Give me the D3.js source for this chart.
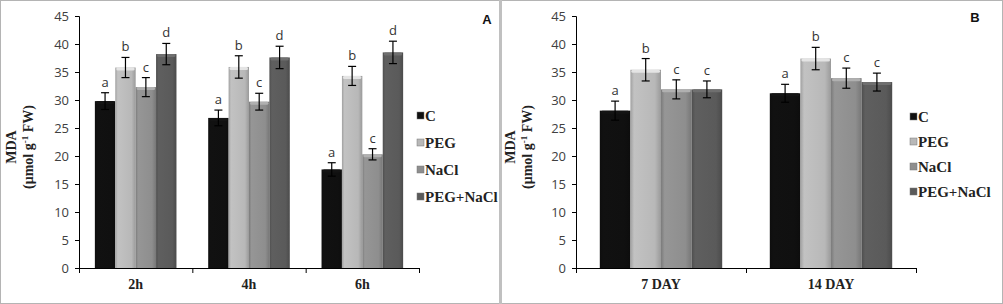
<!DOCTYPE html>
<html>
<head>
<meta charset="utf-8">
<script src="https://cdn.jsdelivr.net/npm/d3@7"></script>
<style>
  body { margin: 0; background: #fff; }
  svg { display: block; }
  .tick text { font-family: "Open Sans", sans-serif; font-size: 13px; fill: #404040; }
</style>
</head>
<body>
<svg id="chart" width="1003" height="304"></svg>
<script>
// ---- Data ----
const series = ["C", "PEG", "NaCl", "PEG+NaCl"];
const seriesColors = ["#101010", "#b8b8b8", "#8e8e8e", "#5a5a5a"];

const hoursA = ["2h", "4h", "6h"];
const meanA = [
    [29.8, 35.8, 32.3, 38.2],
    [26.8, 35.9, 29.7, 37.6],
    [17.6, 34.3, 20.3, 38.5]
];
const errA = [
    [1.5, 1.8, 1.7, 1.9],
    [1.4, 2.0, 1.5, 2.0],
    [1.2, 1.7, 1.0, 2.0]
];
const lettersA = [
    ["a", "b", "c", "d"],
    ["a", "b", "c", "d"],
    ["a", "b", "c", "d"]
];

const daysB = ["7 DAY", "14 DAY"];
const meanB = [
    [28.1, 35.4, 31.9, 31.9],
    [31.2, 37.4, 33.9, 33.2]
];
const errB = [
    [1.7, 2.0, 1.7, 1.5],
    [1.6, 2.0, 1.8, 1.6]
];
const lettersB = [
    ["a", "b", "c", "c"],
    ["a", "b", "c", "c"]
];

const yTicks = [0, 5, 10, 15, 20, 25, 30, 35, 40, 45];

const svg = d3.select("#chart");

// ---- Frame ----
svg.append("rect").attr("x", 0.5).attr("y", 0.5).attr("width", 1002).attr("height", 303)
    .attr("fill", "none").attr("stroke", "#b4b4b4");
svg.append("line").attr("x1", 500.5).attr("x2", 500.5).attr("y1", 0).attr("y2", 304)
    .attr("stroke", "#c0c0c0").attr("stroke-width", 3);

// ---- Gradients per series (cylinder look) ----
const defs = svg.append("defs");
seriesColors.forEach((c, i) => {
    const g = defs.append("linearGradient").attr("id", "grad" + i)
        .attr("x1", "0%").attr("x2", "100%").attr("y1", "0%").attr("y2", "0%");
    const base = d3.color(c);
    g.append("stop").attr("offset", "0%").attr("stop-color", base.darker(0.4));
    g.append("stop").attr("offset", "12%").attr("stop-color", base.brighter(0.15));
    g.append("stop").attr("offset", "80%").attr("stop-color", base);
    g.append("stop").attr("offset", "100%").attr("stop-color", base.darker(0.5));
});

function drawPanel(cfg) {
    const g = svg.append("g");

    const x0 = d3.scaleBand().domain(cfg.cats).range([cfg.left, cfg.right]);
    const bw = x0.bandwidth();
    const x1 = d3.scaleBand().domain(series).range([bw * 0.14, bw * 0.86]);
    const y = d3.scaleLinear().domain([0, 45]).range([268, 16]);

    // ---- Y axis ----
    const yAxis = g.append("g")
        .attr("transform", `translate(${cfg.left},0)`)
        .call(d3.axisLeft(y).tickValues(yTicks).tickSize(4).tickPadding(6));
    yAxis.select(".domain").attr("stroke", "#000");
    yAxis.selectAll(".tick line").attr("stroke", "#000");

    // ---- X axis ----
    g.append("line").attr("x1", cfg.left).attr("x2", cfg.right)
        .attr("y1", y(0) + 0.5).attr("y2", y(0) + 0.5).attr("stroke", "#000");
    const bounds = cfg.cats.map(c => x0(c)).concat([cfg.right]);
    g.selectAll(".xtick").data(bounds).join("line")
        .attr("x1", d => d + 0.5).attr("x2", d => d + 0.5)
        .attr("y1", y(0)).attr("y2", y(0) + 5).attr("stroke", "#000");
    g.selectAll(".xlab").data(cfg.cats).join("text")
        .attr("x", d => x0(d) + bw / 2).attr("y", 289)
        .attr("text-anchor", "middle")
        .style("font-family", "'Liberation Serif', serif").style("font-weight", "bold")
        .style("font-size", "14px").attr("fill", "#222")
        .text(d => d);

    // ---- Bars ----
    const rows = [];
    cfg.cats.forEach((c, ci) => {
        series.forEach((s, si) => {
            rows.push({ cat: c, s: s, si: si, v: cfg.mean[ci][si], e: cfg.err[ci][si], l: cfg.letters[ci][si] });
        });
    });

    const grp = g.selectAll(".bar").data(rows).join("g")
        .attr("transform", d => `translate(${x0(d.cat) + x1(d.s)},0)`);

    grp.append("rect")
        .attr("x", 0).attr("y", d => y(d.v))
        .attr("width", x1.bandwidth()).attr("height", d => y(0) - y(d.v))
        .attr("fill", d => `url(#grad${d.si})`);
    // top cap highlight
    grp.append("rect")
        .attr("x", 1).attr("y", d => y(d.v))
        .attr("width", x1.bandwidth() - 2).attr("height", 3)
        .attr("rx", 1.5)
        .attr("fill", d => d3.color(seriesColors[d.si]).brighter(0.6));

    // error bars
    const cx = x1.bandwidth() / 2;
    grp.append("line")
        .attr("x1", cx).attr("x2", cx)
        .attr("y1", d => y(d.v + d.e)).attr("y2", d => y(d.v - d.e))
        .attr("stroke", "#000").attr("stroke-width", 1.2);
    grp.append("line")
        .attr("x1", cx - 4).attr("x2", cx + 4)
        .attr("y1", d => y(d.v + d.e)).attr("y2", d => y(d.v + d.e))
        .attr("stroke", "#000").attr("stroke-width", 1.2);
    grp.append("line")
        .attr("x1", cx - 4).attr("x2", cx + 4)
        .attr("y1", d => y(d.v - d.e)).attr("y2", d => y(d.v - d.e))
        .attr("stroke", "#000").attr("stroke-width", 1.2);

    // significance letters
    grp.append("text")
        .attr("x", cx).attr("y", d => y(d.v + d.e) - 6)
        .attr("text-anchor", "middle")
        .style("font-family", "'Open Sans', sans-serif").style("font-size", "13px")
        .attr("fill", "#333")
        .text(d => d.l);

    // ---- Y label ----
    const lab = g.append("text")
        .attr("transform", `translate(${cfg.labelX},147) rotate(-90)`)
        .attr("text-anchor", "middle")
        .style("font-family", "'Liberation Serif', serif").style("font-weight", "bold")
        .style("font-size", "14px").attr("fill", "#222");
    lab.append("tspan").attr("x", 0).attr("dy", 0).text("MDA");
    const l2 = lab.append("tspan").attr("x", 0).attr("dy", 17);
    l2.append("tspan").text("(μmol  g");
    l2.append("tspan").attr("dy", -5).style("font-size", "9px").text("-1");
    l2.append("tspan").attr("dy", 5).text(" FW)");

    // ---- Legend ----
    const leg = g.selectAll(".leg").data(series).join("g")
        .attr("transform", (d, i) => `translate(${cfg.legX},${cfg.legY + i * cfg.legStep})`);
    leg.append("rect").attr("x", 0).attr("y", -4).attr("width", 7).attr("height", 7)
        .attr("fill", (d, i) => seriesColors[i]).attr("stroke", "#777").attr("stroke-width", 0.5);
    leg.append("text").attr("x", 8).attr("y", 5)
        .style("font-family", "'Liberation Serif', serif").style("font-weight", "bold")
        .style("font-size", "15px").attr("fill", "#222")
        .text(d => d);

    // ---- Panel letter ----
    g.append("text").attr("x", cfg.tagX).attr("y", cfg.tagY)
        .attr("text-anchor", "middle")
        .style("font-family", "'Liberation Sans', sans-serif").style("font-weight", "bold")
        .style("font-size", "13px").attr("fill", "#111")
        .text(cfg.tag);
}

drawPanel({
    cats: hoursA, mean: meanA, err: errA, letters: lettersA,
    left: 79, right: 419, labelX: 16,
    legX: 417, legY: 116, legStep: 27,
    tag: "A", tagX: 487, tagY: 24
});

drawPanel({
    cats: daysB, mean: meanB, err: errB, letters: lettersB,
    left: 576, right: 916, labelX: 515,
    legX: 910, legY: 117, legStep: 25,
    tag: "B", tagX: 975, tagY: 22
});
</script>
</body>
</html>
